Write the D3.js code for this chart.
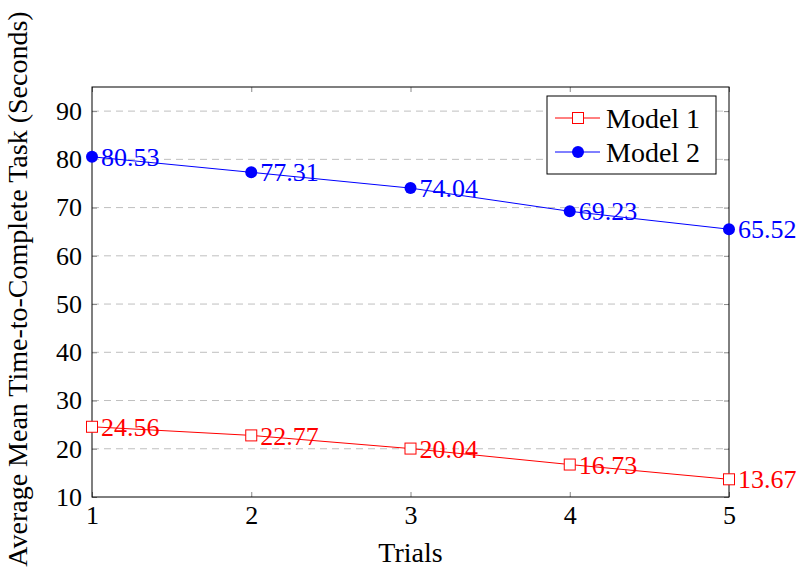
<!DOCTYPE html>
<html><head><meta charset="utf-8">
<script src="https://cdn.jsdelivr.net/npm/d3@7"></script>
<style>body{margin:0;background:#fff}svg{display:block}text{font-family:"Liberation Serif","DejaVu Serif",serif}</style>
</head><body>
<svg id="c" width="799" height="578"></svg>
<script>
const trials = [1, 2, 3, 4, 5];
const model1 = [24.56, 22.77, 20.04, 16.73, 13.67];
const model2 = [80.53, 77.31, 74.04, 69.23, 65.52];
const yTicks = [10, 20, 30, 40, 50, 60, 70, 80, 90];
const seriesNames = ["Model 1", "Model 2"];

const svg = d3.select("#c");
const L = 92, R = 729, T = 87, B = 497;
const x = d3.scaleLinear().domain([1, 5]).range([L, R]);
const y = d3.scaleLinear().domain([10, 95]).range([B, T]);
const NFS = 26;   // numbers
const TFS = 28;   // words

// grid
svg.append("g").selectAll("line").data(yTicks.filter(d => d > 10)).join("line")
  .attr("x1", L).attr("x2", R).attr("y1", d => y(d)).attr("y2", d => y(d))
  .attr("stroke", "#bfbfbf").attr("stroke-width", 1).attr("stroke-dasharray", "7,5");

// axes
const ax = svg.append("g");
ax.append("g").attr("transform", `translate(0,${B})`)
  .call(d3.axisBottom(x).tickValues(trials).tickFormat(d3.format("d")).tickSize(-5).tickPadding(9))
  .call(g => g.select(".domain").remove());
ax.append("g").attr("transform", `translate(0,${T})`)
  .call(d3.axisTop(x).tickValues(trials).tickSize(-5).tickFormat(""))
  .call(g => g.select(".domain").remove());
ax.append("g").attr("transform", `translate(${L},0)`)
  .call(d3.axisLeft(y).tickValues(yTicks).tickSize(-5).tickPadding(10))
  .call(g => g.select(".domain").remove());
ax.append("g").attr("transform", `translate(${R},0)`)
  .call(d3.axisRight(y).tickValues(yTicks).tickSize(-5).tickFormat(""))
  .call(g => g.select(".domain").remove());
ax.selectAll(".tick line").attr("stroke", "#888");
ax.selectAll(".tick text").attr("font-size", NFS).attr("font-family", "Liberation Serif").attr("fill", "#000");
svg.append("rect").attr("x", L).attr("y", T).attr("width", R - L).attr("height", B - T)
  .attr("fill", "none").attr("stroke", "#000").attr("stroke-width", 1);

const line = d3.line().x((d, i) => x(trials[i])).y(d => y(d));
const series = [{ name: seriesNames[0], vals: model1, color: "#ff0000", marker: "square" },
                { name: seriesNames[1], vals: model2, color: "#0000ff", marker: "circle" }];

function marker(g, type, color, cx, cy) {
  if (type === "square") {
    g.append("rect").attr("x", cx - 5.5).attr("y", cy - 5.5).attr("width", 11).attr("height", 11)
      .attr("fill", "#fff").attr("stroke", color).attr("stroke-width", 1);
  } else {
    g.append("circle").attr("cx", cx).attr("cy", cy).attr("r", 6).attr("fill", color);
  }
}

series.forEach(s => {
  svg.append("path").datum(s.vals).attr("d", line).attr("fill", "none")
    .attr("stroke", s.color).attr("stroke-width", 1);
  const g = svg.append("g");
  s.vals.forEach((v, i) => marker(g, s.marker, s.color, x(trials[i]), y(v)));
  svg.append("g").selectAll("text").data(s.vals).join("text")
    .attr("x", (d, i) => x(trials[i]) + 9).attr("y", d => y(d)).attr("dy", "0.35em")
    .attr("font-size", NFS).attr("fill", s.color).text(d => d.toFixed(2));
});

// legend
const lg = svg.append("g");
lg.append("rect").attr("x", 547).attr("y", 96).attr("width", 169).attr("height", 78)
  .attr("fill", "#fff").attr("stroke", "#000").attr("stroke-width", 1);
series.forEach((s, i) => {
  const ly = 118 + i * 34;
  lg.append("line").attr("x1", 555).attr("x2", 600).attr("y1", ly).attr("y2", ly)
    .attr("stroke", s.color).attr("stroke-width", 1);
  marker(lg, s.marker, s.color, 578, ly);
  lg.append("text").attr("x", 606).attr("y", ly).attr("dy", "0.35em").attr("font-size", TFS)
    .attr("fill", "#000").text(s.name);
});

// axis titles
svg.append("text").attr("x", (L + R) / 2).attr("y", 562).attr("text-anchor", "middle")
  .attr("font-size", TFS).text("Trials");
svg.append("text").attr("transform", `translate(27,${(T + B) / 2 - 3}) rotate(-90)`)
  .attr("text-anchor", "middle").attr("font-size", TFS)
  .text("Average Mean Time-to-Complete Task (Seconds)");
</script>
</body></html>
